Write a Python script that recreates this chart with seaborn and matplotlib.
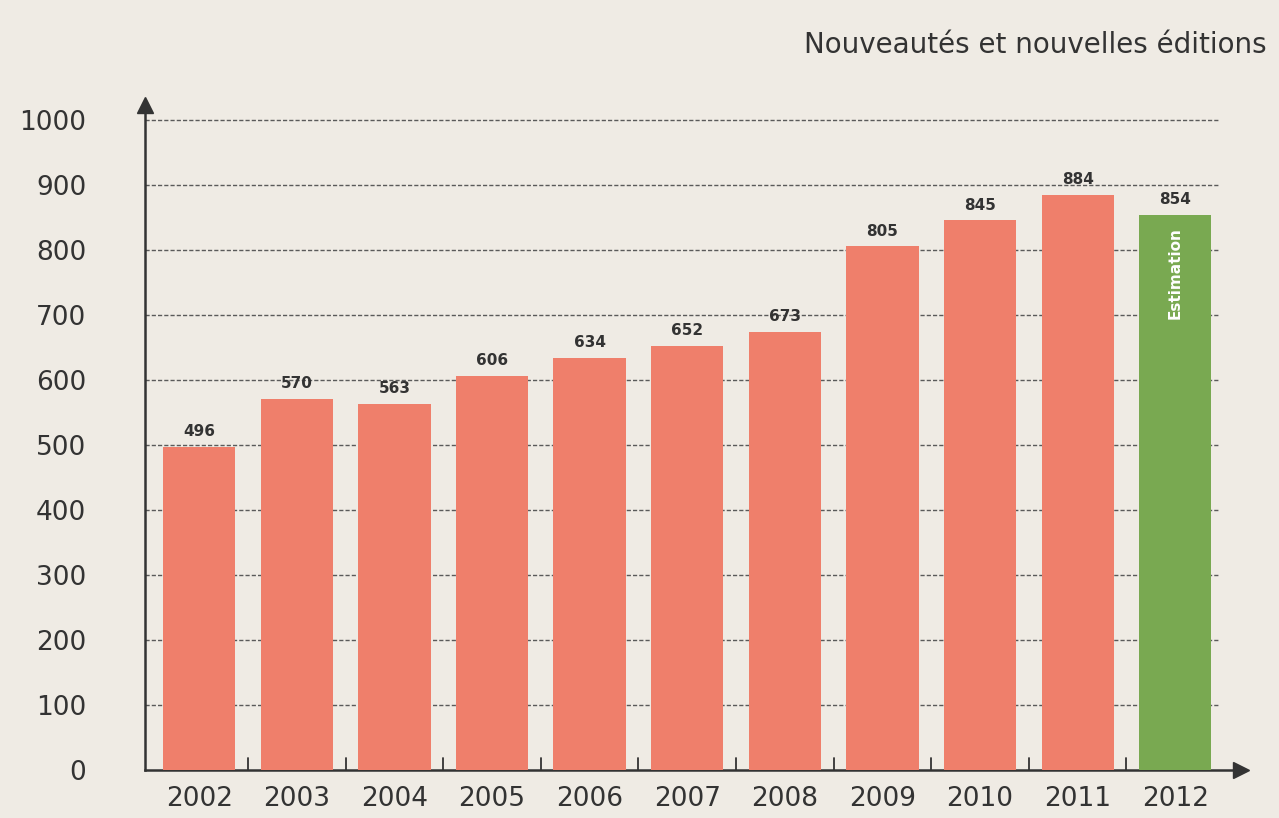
import numpy as np
import pandas as pd
import seaborn as sns
import matplotlib.pyplot as plt

# Data
years = ['2002', '2003', '2004', '2005', '2006', '2007', '2008', '2009', '2010', '2011', '2012']
titles = [496, 570, 563, 606, 634, 652, 673, 805, 845, 884, 854]
estimate_year = '2012'

bg = '#efebe4'
bar_red = '#ef7f6b'
bar_green = '#79a951'

df = pd.DataFrame({'year': years, 'count': titles})
colors = {y: (bar_green if y == estimate_year else bar_red) for y in years}

sns.set_style('white')
plt.rcParams['font.family'] = ['DejaVu Sans']

fig = plt.figure(figsize=(12.79, 8.18), dpi=100, facecolor=bg)
ax = fig.add_axes([0.113, 0.059, 0.857, 0.813])
ax.set_facecolor(bg)

sns.barplot(data=df, x='year', y='count', hue='year', palette=colors,
            width=0.74, legend=False, ax=ax, zorder=3, saturation=1, linewidth=0)

# dashed horizontal grid behind the bars
for v in range(100, 1001, 100):
    ax.plot([-0.56, 10.45], [v, v], ls=(0, (3, 1.5)), lw=1.0, color='#5a5a5a', zorder=1)

ax.set_xlim(-0.56, 10.67)
ax.set_ylim(0, 1023)
ax.set_yticks(range(0, 1001, 100))
ax.set_yticklabels([str(v) for v in range(0, 1001, 100)], fontsize=19, color='#333333')
ax.tick_params(axis='y', length=0, pad=42)
ax.set_xticks(range(len(years)))
ax.set_xticklabels(years, fontsize=19, color='#333333')
ax.tick_params(axis='x', length=0, pad=12)
ax.set_xlabel('')
ax.set_ylabel('')

# small ticks between bars
for i in range(len(years) - 1):
    ax.plot([i + 0.5, i + 0.5], [0, 18], color='#333333', lw=1.3, zorder=4)

for s in ['top', 'right']:
    ax.spines[s].set_visible(False)
for s in ['left', 'bottom']:
    ax.spines[s].set_color('#333333')
    ax.spines[s].set_linewidth(1.8)

# arrow heads on the axes
ax.plot(0, 1, marker='^', ms=11, color='#333333', transform=ax.transAxes, clip_on=False)
ax.plot(1, 0, marker='>', ms=11, color='#333333', transform=ax.transAxes, clip_on=False)

# value labels
for i, v in enumerate(titles):
    ax.text(i, v + 12, str(v), ha='center', va='bottom', fontsize=11,
            fontweight='bold', color='#333333', zorder=5)

idx = years.index(estimate_year)
ax.text(idx, titles[idx] - 20, 'Estimation', rotation=90, ha='center', va='top',
        fontsize=11, fontweight='bold', color='white', zorder=5)

fig.text(0.99, 0.945, 'Nouveautés et nouvelles éditions', ha='right', va='center',
         fontsize=20, color='#333333')

fig.savefig('out.png', dpi=100, facecolor=bg)
